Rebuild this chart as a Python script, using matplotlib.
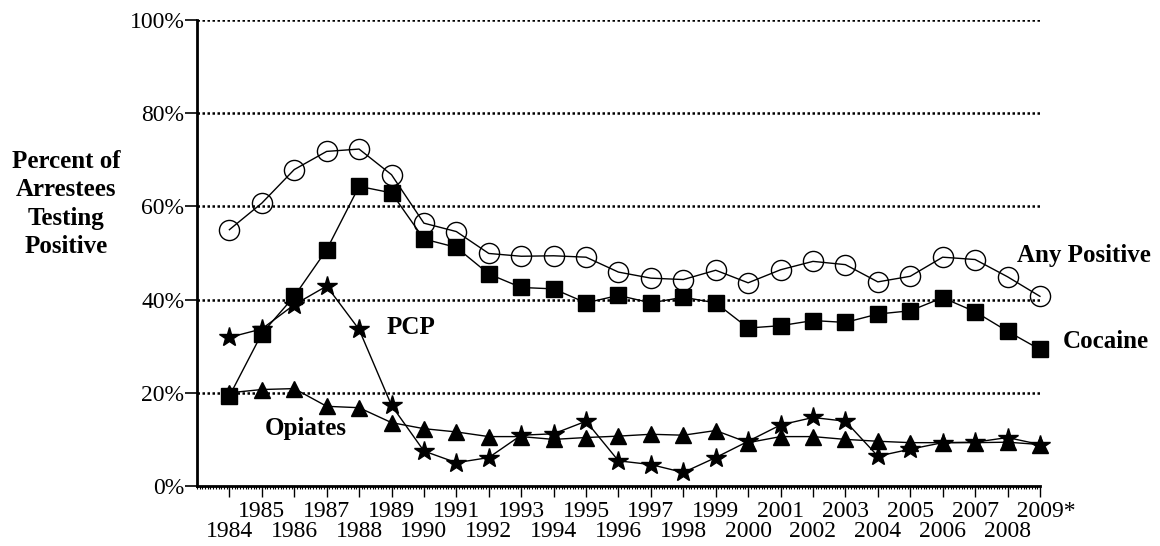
import matplotlib.pyplot as plt
from matplotlib.ticker import MultipleLocator, NullLocator

plt.rcParams['font.family'] = ['Liberation Serif', 'DejaVu Serif']

years = list(range(1984, 2010))
any_positive = [55.0, 60.7, 67.9, 71.8, 72.3, 66.8, 56.4, 54.6, 49.9, 49.3, 49.4, 49.1, 45.9,
                44.6, 44.3, 46.3, 43.6, 46.4, 48.2, 47.5, 43.8, 45.0, 49.1, 48.6, 44.9, 40.7]
cocaine = [19.3, 32.7, 40.7, 50.7, 64.3, 62.9, 53.0, 51.2, 45.5, 42.6, 42.3, 39.3, 40.9,
           39.3, 40.5, 39.3, 33.9, 34.4, 35.5, 35.1, 36.9, 37.6, 40.4, 37.4, 33.2, 29.3]
pcp = [31.9, 33.7, 38.9, 42.9, 33.6, 17.3, 7.5, 5.0, 6.1, 10.9, 11.2, 13.9, 5.4,
       4.6, 2.9, 6.1, 9.6, 13.1, 14.7, 13.9, 6.4, 7.9, 9.3, 9.4, 10.4, 8.9]
opiates = [20.0, 20.7, 20.9, 17.1, 16.8, 13.6, 12.3, 11.6, 10.6, 10.6, 10.0, 10.4, 10.7,
           11.1, 10.9, 11.9, 9.3, 10.6, 10.6, 10.0, 9.6, 9.3, 9.3, 9.3, 9.4, 8.9]

# every year gets a tick; odd years labelled on the upper row, even years on the lower row
upper_labels = [str(y) if y % 2 else '' for y in years]
upper_labels[-1] = '  2009*'
even_years = [y for y in years if y % 2 == 0]
even_labels = [str(y) for y in even_years]
y_ticks = [0, 20, 40, 60, 80, 100]
y_labels = ['%d%%' % v for v in y_ticks]

fig = plt.figure(figsize=(11.6, 5.46), dpi=100)
ax = fig.add_axes([0.1698, 0.1099, 0.7267, 0.8535])

ax.plot(years, opiates, color='black', lw=1, marker='^', ms=11, mfc='black', mec='black',
        clip_on=False, zorder=3)
ax.plot(years, pcp, color='black', lw=1, marker='*', ms=15, mfc='black', mec='black',
        clip_on=False, zorder=4)
ax.plot(years, cocaine, color='black', lw=1, marker='s', ms=11, mfc='black', mec='black',
        clip_on=False, zorder=3)
ax.plot(years, any_positive, color='black', lw=1, marker='o', ms=14.5, mfc='none', mec='black',
        mew=1, clip_on=False, zorder=3)

ax.set_xlim(1983, 2009)
ax.set_ylim(0, 100)
ax.set_yticks(y_ticks, y_labels)
ax.set_xticks(years, upper_labels)
ax.xaxis.set_minor_locator(MultipleLocator(1 / 12))

# lower row with the even years
low = ax.secondary_xaxis('bottom')
low.set_xticks(even_years, even_labels)
low.xaxis.set_minor_locator(NullLocator())
low.tick_params(axis='x', length=0, pad=25.5, labelsize=17)
low.spines['bottom'].set_visible(False)

for v in y_ticks[1:]:
    ax.axhline(v, color='black', lw=1.8, ls=(0, (1, 1)), zorder=1)

for s in ['top', 'right']:
    ax.spines[s].set_visible(False)
ax.spines['left'].set_linewidth(2)
ax.spines['bottom'].set_linewidth(2)

ax.tick_params(axis='y', direction='out', length=9, width=1.2, pad=0, labelsize=17)
ax.tick_params(axis='x', which='major', direction='out', length=8, width=1, pad=3, labelsize=17)
ax.tick_params(axis='x', which='minor', direction='out', length=2.5, width=0.8)

bold = dict(fontsize=18, fontweight='bold')
ax.text(1989.6, 32.6, 'PCP', ha='center', va='baseline', **bold)
ax.text(1986.35, 11.0, 'Opiates', ha='center', va='baseline', **bold)
ax.text(2008.3, 48.1, 'Any Positive', ha='left', va='baseline', clip_on=False, **bold)
ax.text(2009.7, 29.6, 'Cocaine', ha='left', va='baseline', clip_on=False, **bold)

fig.text(66 / 1160, 1 - 204 / 546, 'Percent of\nArrestees\nTesting\nPositive',
         ha='center', va='center', linespacing=1.3, **bold)

plt.savefig('out.png')
